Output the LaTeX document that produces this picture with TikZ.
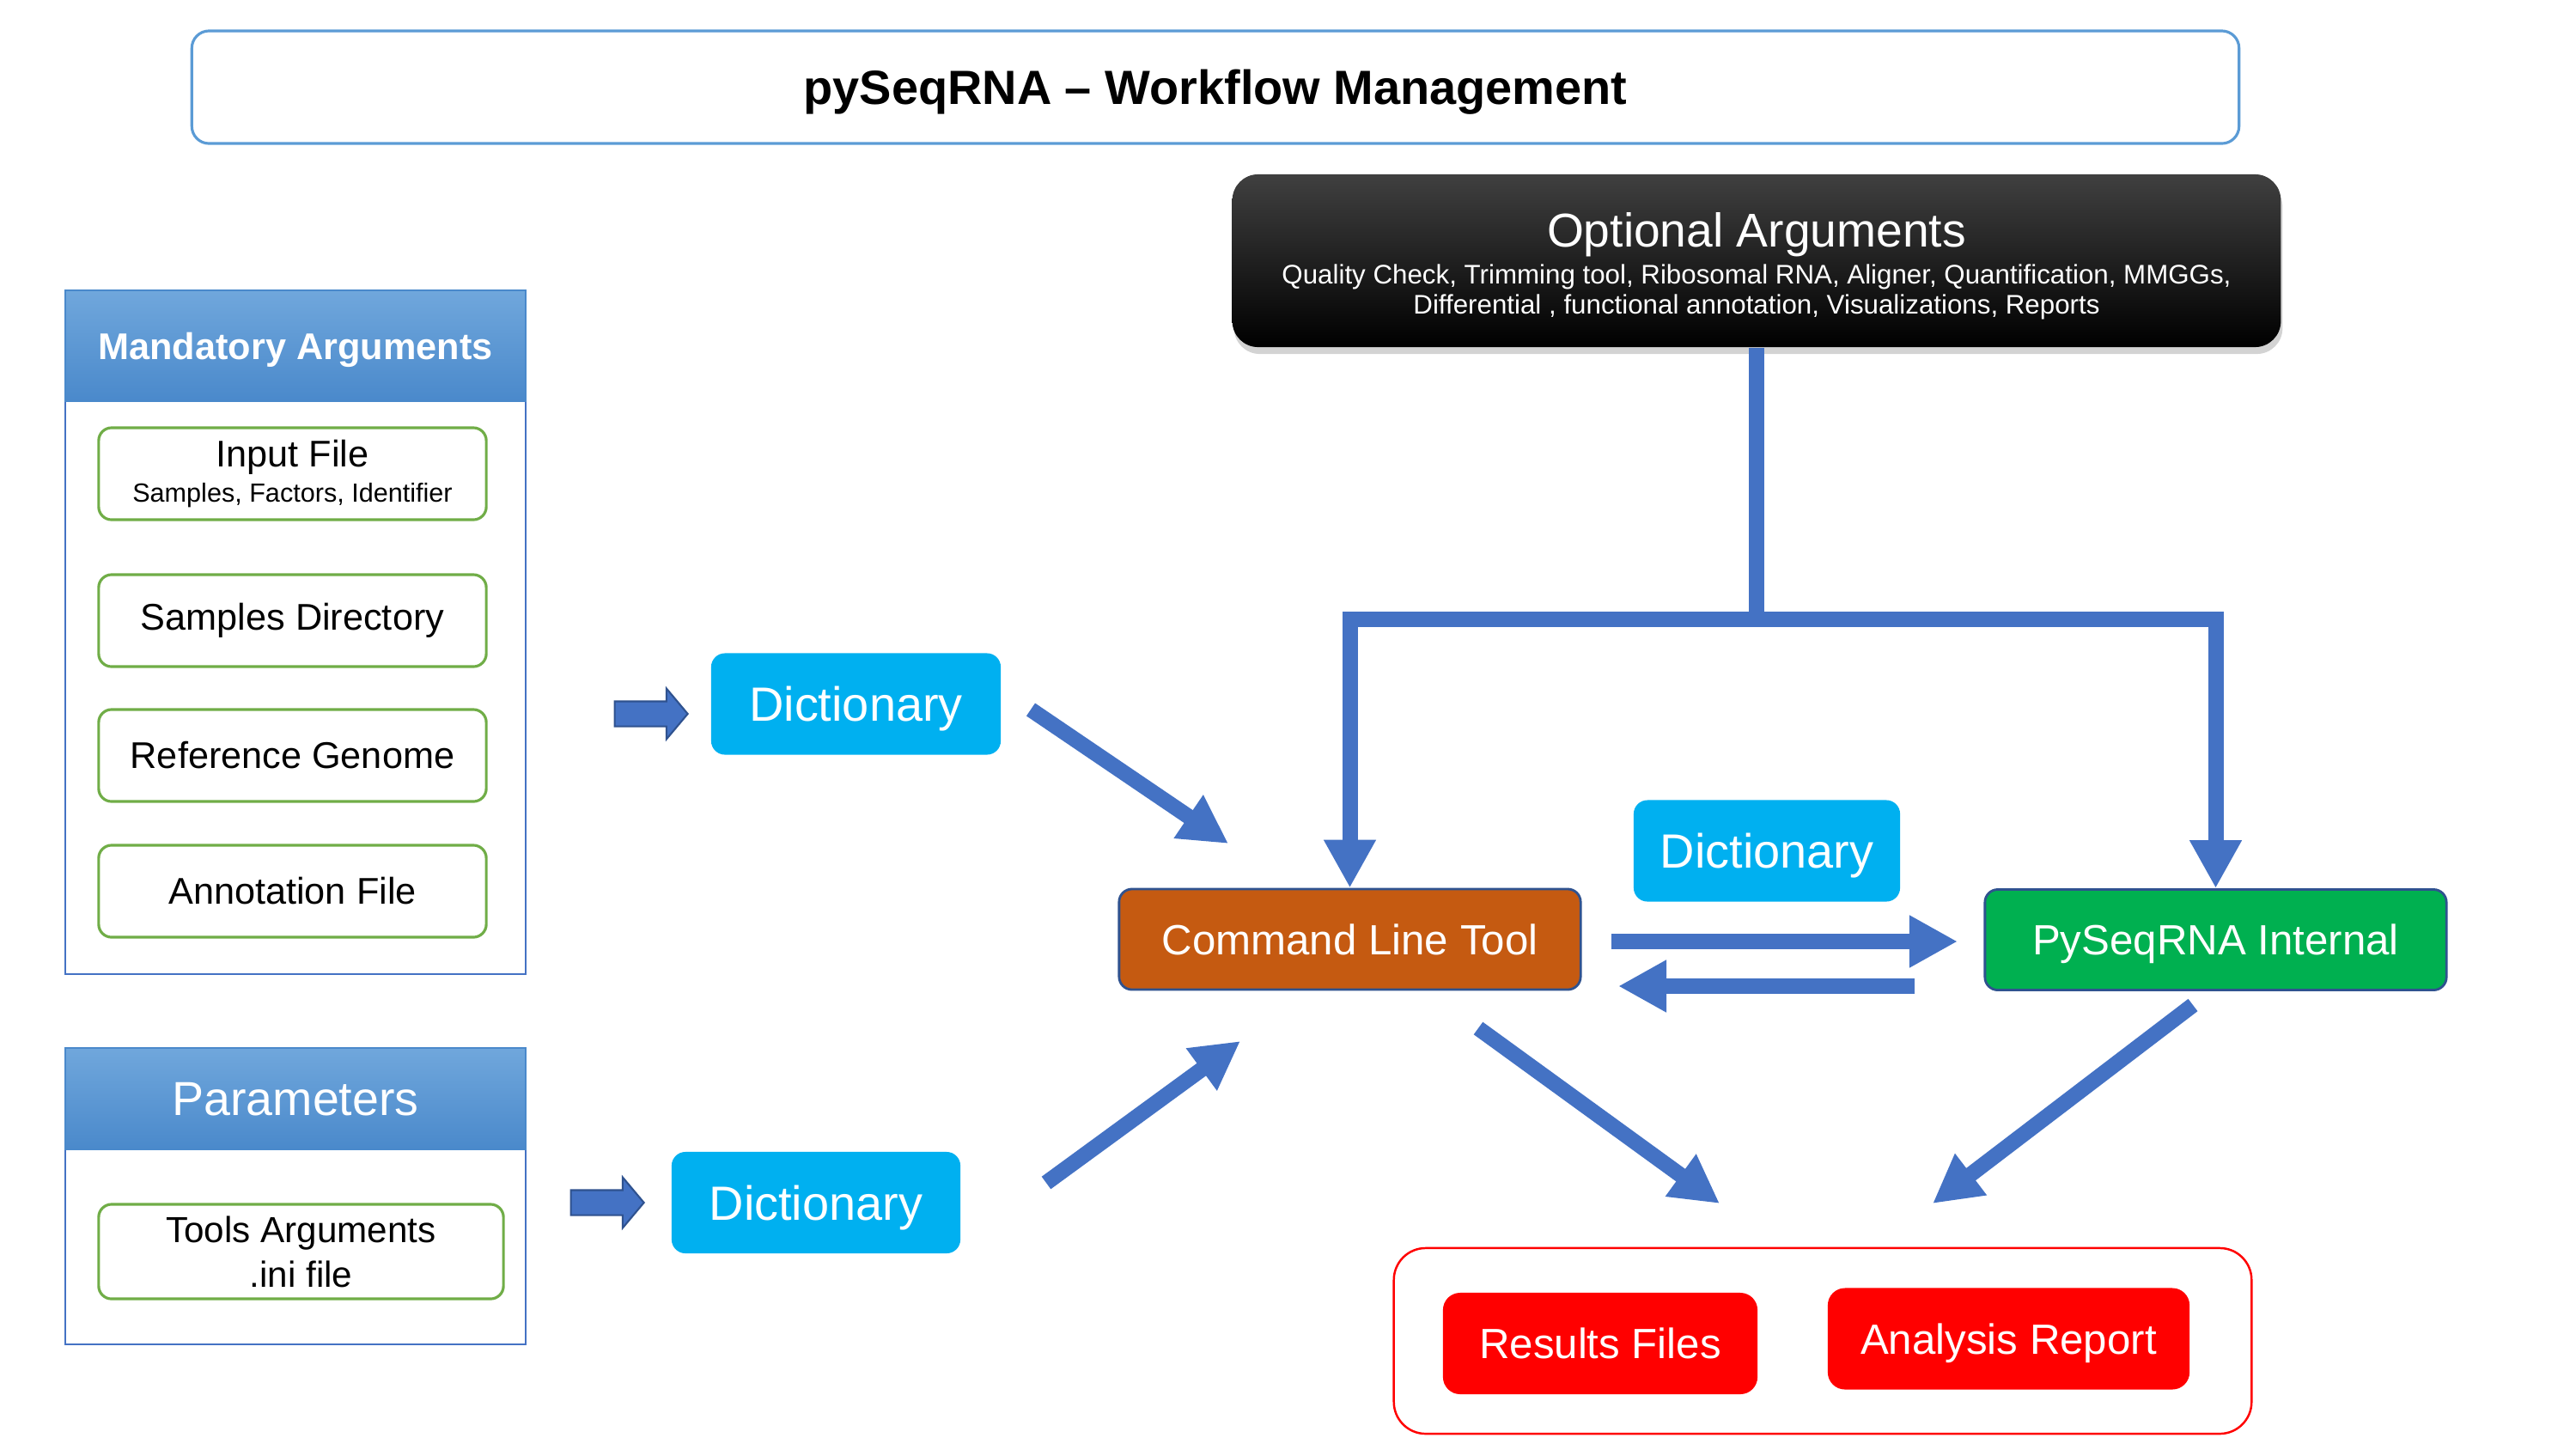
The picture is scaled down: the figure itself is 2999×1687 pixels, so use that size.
\documentclass[tikz,border=0pt]{standalone}
\usepackage{fontspec}
\setmainfont{Liberation Sans}
\usetikzlibrary{positioning}
\usetikzlibrary{shapes.arrows}
\usetikzlibrary{arrows.meta}
\usetikzlibrary{shadows}
\definecolor{arrowblue}{HTML}{4472C4}
\definecolor{darkblue}{HTML}{2F528F}
\definecolor{titleblue}{HTML}{5B9BD5}
\definecolor{headtop}{HTML}{70A7DC}
\definecolor{headbot}{HTML}{4A89CB}
\definecolor{boxgreen}{HTML}{70AD47}
\definecolor{dictcyan}{HTML}{00B0F0}
\definecolor{cltorange}{HTML}{C55A11}
\definecolor{psigreen}{HTML}{00B050}

\begin{document}
\begin{tikzpicture}[x=0.01cm,y=-0.01cm,
	panel/.style={draw=arrowblue,line width=0.7pt,inner sep=0pt,minimum width=5.36cm},
	panelhead/.style={top color=headtop,bottom color=headbot,draw=headbot,line width=0.7pt,inner sep=0pt,text=white,text depth=0pt,minimum width=5.36cm},
	argbox/.style={draw=boxgreen,line width=0.9pt,rounded corners=0.15cm,inner sep=0pt,align=center,minimum width=4.51cm,minimum height=1.07cm,font=\fontsize{12.3}{14.8}\selectfont},
	dictbox/.style={fill=dictcyan,rounded corners=0.16cm,inner sep=0pt,text=white,text depth=0pt,minimum height=1.18cm,font=\fontsize{15.9}{19}\selectfont},
	toolbox/.style={draw=darkblue,line width=0.8pt,rounded corners=0.15cm,inner sep=0pt,text=white,text depth=0pt,minimum width=5.37cm,minimum height=1.17cm,font=\fontsize{14}{17}\selectfont},
	resultbox/.style={fill=red,rounded corners=0.2cm,inner sep=0pt,text=white,text depth=0pt,minimum height=1.18cm,font=\fontsize{14}{17}\selectfont},
	blockarrow/.style={single arrow,fill=arrowblue,draw=darkblue,line width=0.6pt,minimum height=0.85cm,inner xsep=0pt,inner ysep=0.135cm,single arrow head extend=0.15cm,single arrow tip angle=100},
	flow/.style={draw=arrowblue,line width=0.18cm,line join=miter},
	flowarrow/.style={flow,-{Triangle[length=0.56cm,width=0.57cm]}}
	]
	\useasboundingbox (0,0) rectangle (2999,1687);
	
	% title and optional arguments
	\node[draw=titleblue,line width=0.9pt,rounded corners=0.2cm,inner sep=0pt,minimum width=23.82cm,minimum height=1.31cm,text depth=0pt,font=\bfseries\fontsize{15.9}{19}\selectfont] (title) at (1415,101.5) {pySeqRNA – Workflow Management};
	\node[top color=black!75,middle color=black,bottom color=black,rounded corners=0.3cm,inner sep=0pt,
		minimum width=12.2cm,minimum height=2.01cm,
		drop shadow={shadow xshift=0.02cm,shadow yshift=-0.08cm,opacity=0.35}] (opt) at (2045,303.5) {};
	\node[text=white,align=center,inner sep=0pt,font=\fontsize{8.9}{10.2}\selectfont] (optlabel) at (2045,310)
		{{\fontsize{15.7}{18}\selectfont Optional Arguments}\\[1.9pt]
		Quality Check, Trimming tool, Ribosomal RNA, Aligner, Quantification, MMGGs,\\
		Differential , functional annotation, Visualizations, Reports};
	
	% mandatory arguments
	\node[panel,minimum height=7.96cm] (mand) at (344,736) {};
	\node[panelhead,minimum height=1.29cm,font=\bfseries\fontsize{12.3}{15}\selectfont] (mandhead) at (344,402.5) {Mandatory Arguments};
	\node[argbox] (input) at (340.5,551.5) {Input File\\[-3.2pt] {\fontsize{8.7}{10.4}\selectfont Samples, Factors, Identifier}};
	\node[argbox] (samples) at (340.5,722.5) {Samples Directory};
	\node[argbox] (genome) at (340.5,879.5) {Reference Genome};
	\node[argbox] (annot) at (340.5,1037.5) {Annotation File};
	
	% parameters
	\node[panel,minimum height=3.45cm] (param) at (344,1392.5) {};
	\node[panelhead,minimum height=1.18cm,font=\fontsize{15.8}{19}\selectfont] (paramhead) at (344,1279) {Parameters};
	\node[argbox,minimum width=4.71cm,minimum height=1.1cm,font=\fontsize{12}{14.8}\selectfont] (toolsarg) at (350.5,1457) {Tools Arguments\\ .ini file};
	
	% dictionaries
	\node[blockarrow] (arrA) at (752,831) {};
	\node[blockarrow] (arrB) at (701,1400) {};
	\node[dictbox,minimum width=3.37cm] (dictA) at (996.5,819.5) {Dictionary};
	\node[dictbox,minimum width=3.36cm] (dictB) at (950,1400) {Dictionary};
	\node[dictbox,minimum width=3.1cm] (dictC) at (2057,990.5) {Dictionary};
	
	% tools
	\node[toolbox,fill=cltorange] (clt) at (1571.5,1093.5) {Command Line Tool};
	\node[toolbox,fill=psigreen] (psi) at (2579.5,1094) {PySeqRNA Internal};
	
	% output
	\node[draw=red,line width=0.7pt,rounded corners=0.37cm,inner sep=0pt,minimum width=9.98cm,minimum height=2.16cm] (outbox) at (2122,1561) {};
	\node[resultbox,minimum width=3.66cm] (res) at (1863,1564) {Results Files};
	\node[resultbox,minimum width=4.21cm] (rep) at (2338.5,1558.5) {Analysis Report};
	
	% connectors
	\coordinate (split) at (2045,721);
	\coordinate (aout) at (1200,826); \coordinate (cltinA) at (1430,982);
	\coordinate (bout) at (1218,1377); \coordinate (cltinB) at (1444,1212);
	\coordinate (cltout) at (1721,1197); \coordinate (resin) at (2002,1401);
	\coordinate (psiout) at (2553,1170); \coordinate (repin) at (2250,1401);
	\coordinate (fwdA) at (1876,1096); \coordinate (fwdB) at (2279,1096);
	\coordinate (backA) at (2229,1148); \coordinate (backB) at (1884,1148);
	\draw[flow] (opt.south) -- (split);
	\draw[flowarrow] (split) -| (clt.north);
	\draw[flowarrow] (split) -| (psi.north);
	\draw[flowarrow] (aout) -- (cltinA);
	\draw[flowarrow] (bout) -- (cltinB);
	\draw[flowarrow] (fwdA) -- (fwdB);
	\draw[flowarrow] (backA) -- (backB);
	\draw[flowarrow] (cltout) -- (resin);
	\draw[flowarrow] (psiout) -- (repin);
\end{tikzpicture}
\end{document}
